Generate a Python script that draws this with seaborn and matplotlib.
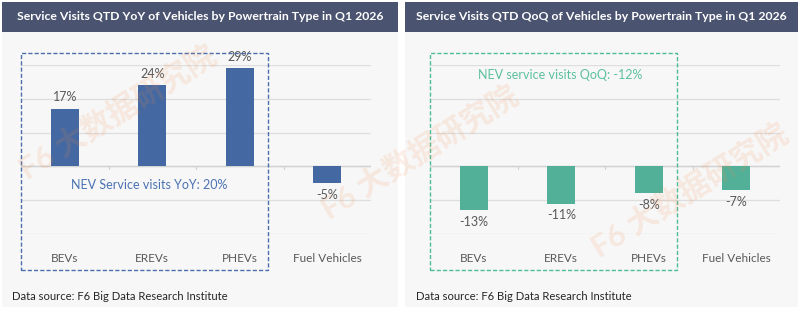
import matplotlib
matplotlib.use("Agg")
import matplotlib.pyplot as plt
from matplotlib.patches import Rectangle
import seaborn as sns
import pandas as pd

categories = ["BEVs", "EREVs", "PHEVs", "Fuel Vehicles"]
yoy_values = [17, 24, 29, -5]
qoq_values = [-13, -11, -8, -7]
yoy_title = "Service Visits QTD YoY of Vehicles by Powertrain Type in Q1 2026"
qoq_title = "Service Visits QTD QoQ of Vehicles by Powertrain Type in Q1 2026"
nev_yoy = 20
nev_qoq = -12
source = "Data source: F6 Big Data Research Institute"
watermark = "F6 大数据研究院"

sns.set_theme(style="white")
plt.rcParams['font.family'] = ['Lato', 'Noto Sans CJK SC', 'DejaVu Sans']

W, H = 800, 331
fig = plt.figure(figsize=(8, 3.31), dpi=100)
fig.patch.set_facecolor("white")


def fr(x, y, w, h):
    return (x / W, 1 - (y + h) / H, w / W, h / H)


def frect(x, y, w, h, **kw):
    fx, fy, fw, fh = fr(x, y, w, h)
    r = Rectangle((fx, fy), fw, fh, transform=fig.transFigure, **kw)
    fig.patches.append(r)
    return r

HEADER = "#4a5370"
BLUE = "#4468a1"
GREEN = "#52b098"
TXT = "#595959"

panels = [
    dict(x0=2, w=396, ax_x=21, values=yoy_values, color=BLUE, title=yoy_title,
         box_x=21, box_w=247, box_color="#4a6fae", ann=f"NEV Service visits YoY: {nev_yoy}%",
         ann_color="#4a72b2", ann_pos=(0.97, -5.6), src_x=12),
    dict(x0=405, w=393, ax_x=430, values=qoq_values, color=GREEN, title=qoq_title,
         box_x=430, box_w=247, box_color="#4dbb95", ann=f"NEV service visits QoQ: {nev_qoq}%",
         ann_color="#5cc0a0", ann_pos=(0.99, 27), src_x=416),
]

for p in panels:
    # panel background and header
    frect(p["x0"], 32, p["w"], 275, facecolor="#f7f7f7", edgecolor="none", zorder=-2)
    frect(p["x0"], 2, p["w"], 30, facecolor=HEADER, edgecolor="none", zorder=-1)
    fig.text((p["x0"] + p["w"] / 2) / W, 1 - 17 / H, p["title"], color="white",
             fontsize=8.8, fontweight="bold", ha="center", va="center", zorder=2)

    ax = fig.add_axes(fr(p["ax_x"], 65, 350, 169))
    ax.set_zorder(1)
    ax.set_facecolor("none")
    df = pd.DataFrame({"cat": categories, "val": p["values"]})
    sns.barplot(data=df, x="cat", y="val", color=p["color"], saturation=1,
                width=0.32, ax=ax, zorder=3, edgecolor="none")
    ax.set_ylim(-20, 30)
    ax.set_xlim(-0.5, len(categories) - 0.5)
    ax.set_yticks([-20, -10, 0, 10, 20, 30])
    ax.yaxis.grid(True, color="#dedede", linewidth=0.9, zorder=0)
    ax.set_axisbelow(True)
    ax.axhline(0, color="#d2d2d2", linewidth=1.0, zorder=1)
    for i in range(1, len(categories)):
        ax.plot([i - 0.5, i - 0.5], [0, -0.9], color="#d2d2d2", lw=0.9, zorder=1)
    for s in ax.spines.values():
        s.set_visible(False)
    ax.set_yticklabels([])
    ax.tick_params(axis="y", length=0)
    ax.tick_params(axis="x", length=0, pad=14, labelsize=8.5, labelcolor=TXT)
    ax.set_xlabel("")
    ax.set_ylabel("")
    for c in ax.containers:
        ax.bar_label(c, labels=[f"{v}%" for v in p["values"]], padding=4,
                     fontsize=9, color=TXT)
    ax.text(p["ann_pos"][0], p["ann_pos"][1], p["ann"], color=p["ann_color"],
            fontsize=9, ha="center", va="center", zorder=5)

    frect(p["box_x"], 53, p["box_w"], 217, facecolor="none", edgecolor=p["box_color"],
          linestyle=(0, (3, 1.5)), linewidth=1.0, zorder=6)
    fig.text(p["src_x"] / W, 1 - 296 / H, source, color="#262626", fontsize=8.1,
             ha="left", va="center", zorder=2)

# watermarks
for (x, y) in [(118, 112), (420, 152), (690, 190)]:
    fig.text(x / W, 1 - y / H, watermark, color="#f08a4b", alpha=0.14, fontsize=22,
             fontweight="bold", rotation=32, ha="center", va="center", zorder=10)

fig.savefig("out.png", dpi=100, facecolor="white")
